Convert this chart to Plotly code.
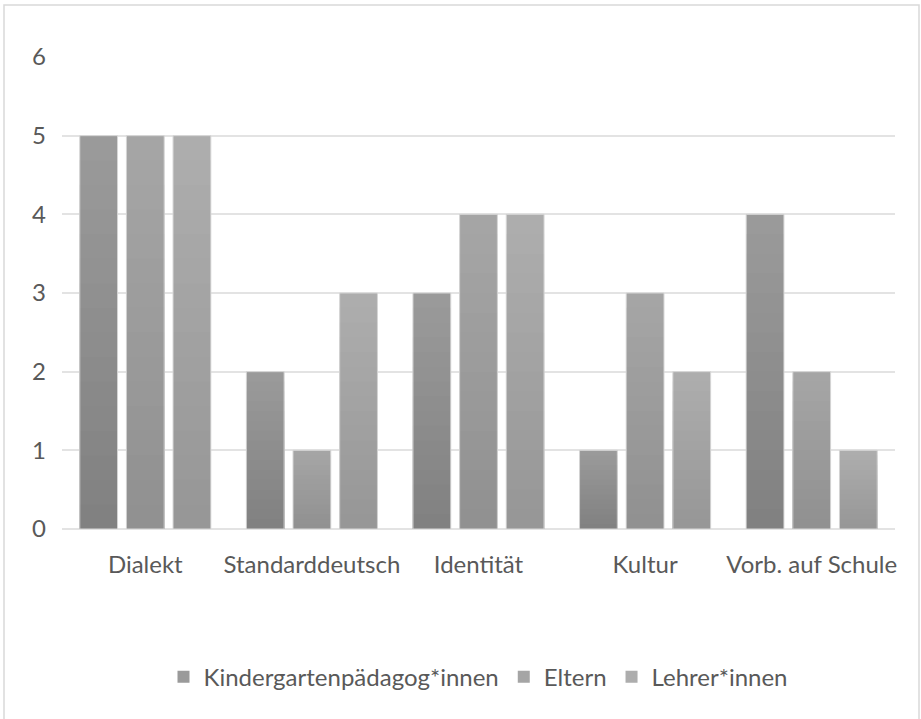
import plotly.graph_objects as go

categories = ["Dialekt", "Standarddeutsch", "Identität", "Kultur", "Vorb. auf Schule"]
series_names = ["Kindergartenpädagog*innen", "Eltern", "Lehrer*innen"]
kinder = [5, 2, 3, 1, 4]
eltern = [5, 1, 4, 3, 2]
lehrer = [5, 3, 4, 2, 1]
series_values = [kinder, eltern, lehrer]

# gradient colours (bottom, top) per series
grad = [((0x80, 0x80, 0x80), (0x9b, 0x9b, 0x9b)),
        ((0x90, 0x90, 0x90), (0xa6, 0xa6, 0xa6)),
        ((0x96, 0x96, 0x96), (0xae, 0xae, 0xae))]
N = 16

fig = go.Figure()
for s, (name, vals) in enumerate(zip(series_names, series_values)):
    bot, top = grad[s]
    for k in range(N, 0, -1):
        t = (k - 0.5) / N
        c = tuple(round(bot[i] + (top[i] - bot[i]) * t) for i in range(3))
        col = "rgb(%d,%d,%d)" % c
        fig.add_trace(go.Bar(
            x=categories, y=[v * k / N for v in vals], name=name,
            offsetgroup=str(s), legendgroup=str(s),
            showlegend=(k == N),
            marker=dict(color=col, line=dict(width=0)),
            hoverinfo="skip"))
    # outline
    fig.add_trace(go.Bar(
        x=categories, y=vals, name=name, offsetgroup=str(s), legendgroup=str(s),
        showlegend=False,
        marker=dict(color="rgba(0,0,0,0)", line=dict(color="#d6d6d6", width=1))))

fig.update_layout(
    width=921, height=719,
    margin=dict(l=62, r=26, t=57, b=190),
    paper_bgcolor="white", plot_bgcolor="white",
    barmode="group", bargap=0.16, bargroupgap=0.19,
    font=dict(family="Lato", size=24, color="#595959"),
    showlegend=True,
    legend=dict(orientation="h", x=0.5, xanchor="center", y=-0.266, yanchor="top",
                font=dict(size=24, color="#595959"), itemwidth=30,
                traceorder="normal", tracegroupgap=0),
    xaxis=dict(showgrid=False, showline=False, ticks="", tickfont=dict(size=24),
               ticklabelstandoff=19),
    yaxis=dict(range=[0, 6], dtick=1, showgrid=True, gridcolor="#e3e3e3", gridwidth=2,
               zeroline=True, zerolinecolor="#e3e3e3", zerolinewidth=2,
               showline=False, ticks="", ticklabelstandoff=15, tickfont=dict(size=24)),
    shapes=[dict(type="rect", xref="paper", yref="paper",
                 x0=(4 - 62) / 833, x1=(919 - 62) / 833,
                 y0=(529 - 730) / 472, y1=(529 - 5) / 472,
                 line=dict(color="#d9d9d9", width=1.5), fillcolor="rgba(0,0,0,0)",
                 layer="below")],
)

fig.write_html("out.html")
